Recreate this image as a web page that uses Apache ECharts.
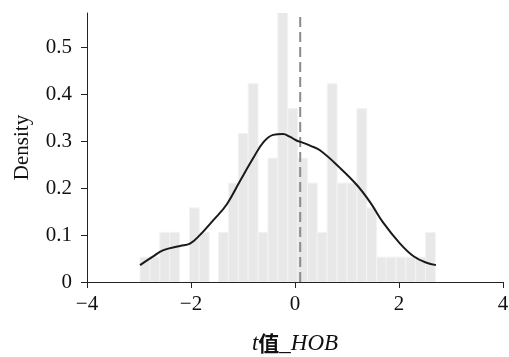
<!DOCTYPE html>
<html>
<head>
<meta charset="utf-8">
<script src="https://cdn.jsdelivr.net/npm/echarts@6/dist/echarts.min.js"></script>
<style>
  html, body { margin: 0; padding: 0; background: #fff; }
  #chart { width: 509px; height: 357px; }
</style>
</head>
<body>
<div id="chart"></div>
<script>
// histogram bins (left edges) and bin width
const binLeft = [-2.98, -2.79, -2.60, -2.41, -2.22, -2.03, -1.84, -1.66, -1.47, -1.28,
                 -1.09, -0.90, -0.71, -0.52, -0.33, -0.14, 0.05, 0.24, 0.43, 0.62,
                 0.81, 1.00, 1.19, 1.38, 1.57, 1.75, 1.94, 2.13, 2.32, 2.51];
const binWidth = 0.1893;
const binDensity = [0.053, 0.053, 0.106, 0.106, 0, 0.158, 0.106, 0, 0.106, 0.211,
                    0.317, 0.423, 0.106, 0.264, 0.581, 0.370, 0.264, 0.211, 0.106, 0.423,
                    0.211, 0.211, 0.370, 0.158, 0.053, 0.053, 0.053, 0.053, 0.053, 0.106];

// kernel density curve
const kdeX = [-2.98, -2.75, -2.53, -2.21, -2.02, -1.83, -1.57, -1.31, -1.06, -0.80,
              -0.61, -0.42, -0.23, -0.10, 0.03, 0.16, 0.29, 0.48, 0.87, 1.19,
              1.44, 1.70, 2.02, 2.28, 2.53, 2.71];
const kdeY = [0.036, 0.053, 0.068, 0.077, 0.082, 0.100, 0.132, 0.166, 0.215, 0.265,
              0.298, 0.314, 0.316, 0.310, 0.302, 0.297, 0.291, 0.281, 0.243, 0.207,
              0.171, 0.126, 0.082, 0.055, 0.041, 0.036];

const refLineX = 0.1;
const xTicks = [-4, -2, 0, 2, 4];
const yTicks = [0, 0.1, 0.2, 0.3, 0.4, 0.5];

const chart = echarts.init(document.getElementById('chart'));

const serif = 'Liberation Serif';

chart.setOption({
  animation: false,
  grid: { left: 87, right: 6, top: 13, bottom: 75, outerBoundsMode: 'none', containLabel: false },
  xAxis: {
    type: 'value',
    min: -4,
    max: 4,
    interval: 2,
    axisLine: { onZero: false, lineStyle: { color: '#222', width: 1 } },
    axisTick: { length: 6, lineStyle: { color: '#222' } },
    splitLine: { show: false },
    axisLabel: {
      color: '#111',
      fontFamily: serif,
      fontSize: 21,
      margin: 12,
      formatter: v => xTicks.includes(v) ? String(v).replace('-', '\u2212') : ''
    },
    name: '{t|t}{c|值}{i|_HOB}',
    nameLocation: 'middle',
    nameGap: 50,
    nameTextStyle: {
      rich: {
        t: { fontFamily: serif, fontStyle: 'italic', fontSize: 23, color: '#111' },
        c: { fontFamily: 'Noto Sans CJK SC', fontWeight: 'bold', fontSize: 21, color: '#111' },
        i: { fontFamily: serif, fontStyle: 'italic', fontSize: 23, color: '#111' }
      }
    }
  },
  yAxis: {
    type: 'value',
    min: 0,
    max: 0.574,
    interval: 0.1,
    axisLine: { show: true, onZero: false, lineStyle: { color: '#222', width: 1 } },
    axisTick: { show: true, length: 6, lineStyle: { color: '#222' } },
    splitLine: { show: false },
    axisLabel: {
      color: '#111',
      fontFamily: serif,
      fontSize: 21,
      margin: 15,
      showMaxLabel: false,
      formatter: v => yTicks.some(t => Math.abs(t - v) < 1e-6) ? String(Math.round(v * 10) / 10) : ''
    },
    name: 'Density',
    nameLocation: 'middle',
    nameGap: 54,
    nameTextStyle: { fontFamily: serif, fontSize: 21, color: '#111' }
  },
  series: [
    {
      type: 'custom',
      clip: true,
      data: binLeft.map((x, i) => [x, binDensity[i]]),
      renderItem: (params, api) => {
        const x0 = api.value(0);
        const h = api.value(1);
        if (!h) return null;
        const p0 = api.coord([x0, 0]);
        const p1 = api.coord([x0 + binWidth, h]);
        return {
          type: 'rect',
          shape: { x: p0[0], y: p1[1], width: p1[0] - p0[0], height: p0[1] - p1[1] },
          style: { fill: '#e8e8e8', stroke: '#f3f3f3', lineWidth: 1 }
        };
      },
      z: 1
    },
    {
      type: 'line',
      data: [[refLineX, 0], [refLineX, 0.574]],
      symbol: 'none',
      lineStyle: { color: '#8c8c8c', width: 2, type: [10, 5] },
      z: 2
    },
    {
      type: 'line',
      data: kdeX.map((x, i) => [x, kdeY[i]]),
      smooth: 0.4,
      symbol: 'none',
      lineStyle: { color: '#1a1a1a', width: 2 },
      z: 3
    }
  ]
});
</script>
</body>
</html>
